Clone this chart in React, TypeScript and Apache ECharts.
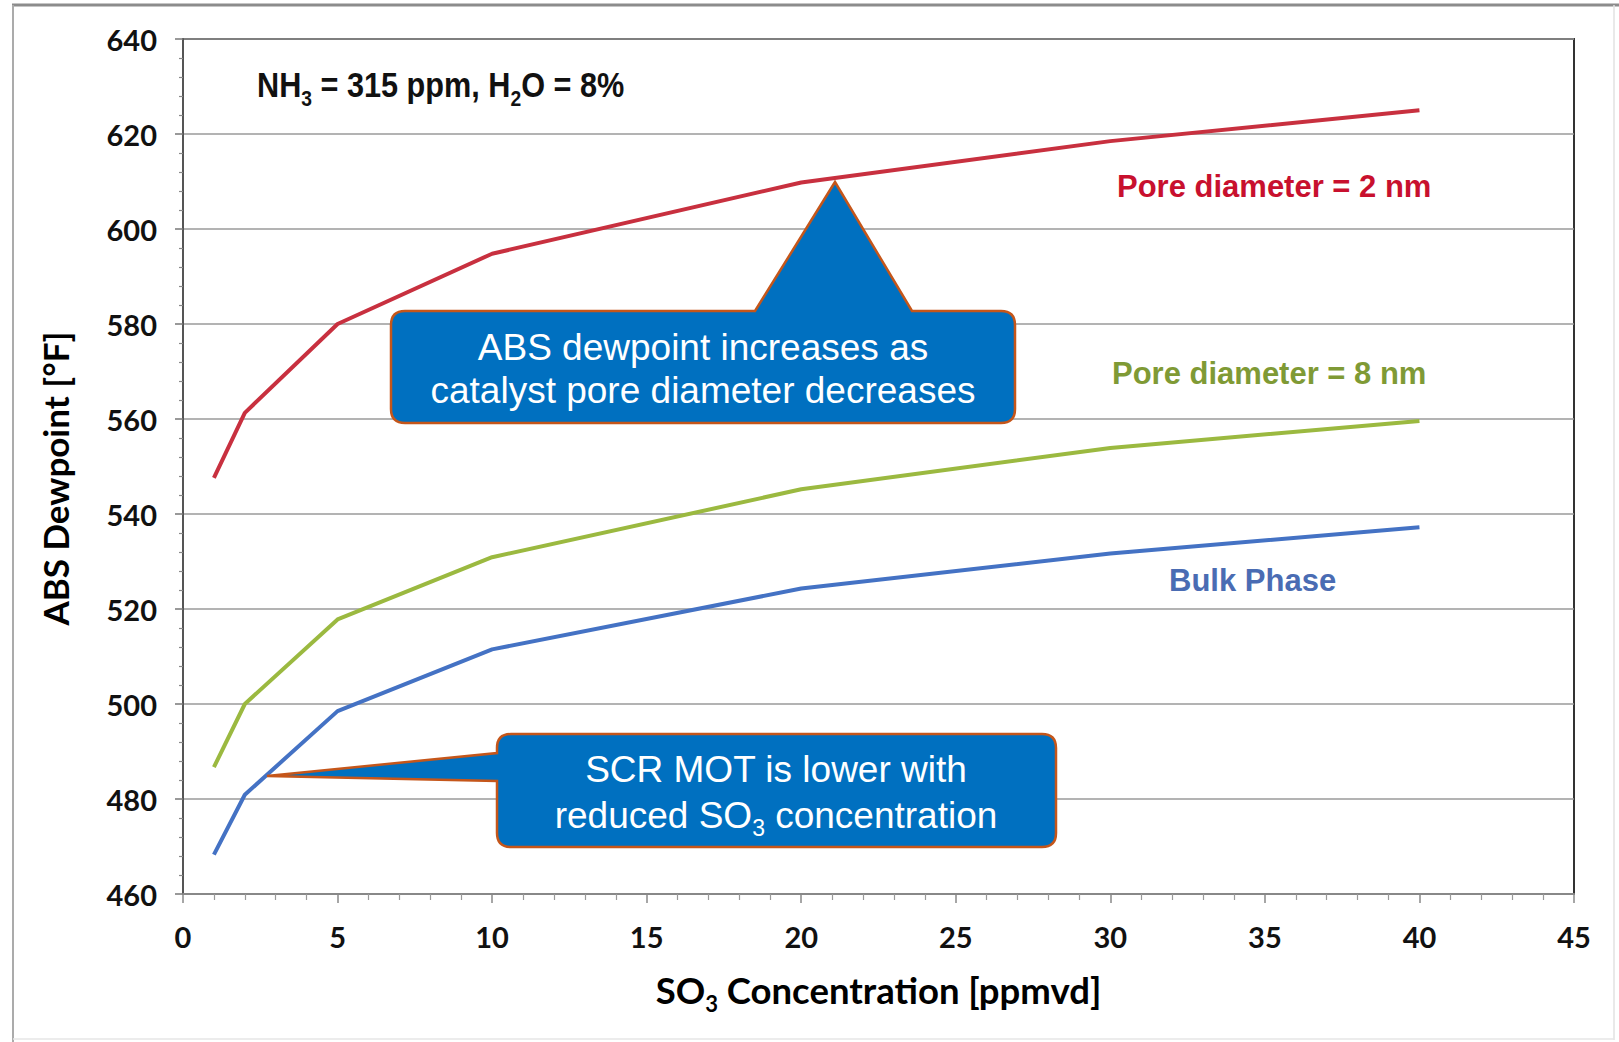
import React, { useEffect, useRef } from "react";
import * as echarts from "echarts";

// ---- data ----
const so3Concentration = [1, 2, 5, 10, 20, 30, 40];
const pore2nm = [547.6, 561.3, 580, 594.8, 609.8, 618.5, 625];
const pore8nm = [486.7, 500, 517.8, 530.9, 545.2, 553.9, 559.6];
const bulkPhase = [468.3, 480.9, 498.5, 511.5, 524.3, 531.7, 537.2];

const seriesNames = ["Pore diameter = 2 nm", "Pore diameter = 8 nm", "Bulk Phase"];
const seriesColors = ["#c8303f", "#9bb940", "#4472c4"];
const labelColors = ["#c8102e", "#7f9a35", "#4a6cb3"];

const yMin = 460;
const yMax = 640;
const yInterval = 20;
const xMin = 0;
const xMax = 45;
const xInterval = 5;

const noteText = ["NH", "3", " = 315 ppm, H", "2", "O = 8%"];
const callout1Lines = ["ABS dewpoint increases as", "catalyst pore diameter decreases"];
const callout2Lines = ["SCR MOT is lower with", "reduced SO", "3", " concentration"];

function roundedCalloutTop(x0: number, y0: number, x1: number, y1: number, r: number, b0: number, b1: number, tx: number, ty: number) {
  return `M ${x0 + r} ${y0} L ${b0} ${y0} L ${tx} ${ty} L ${b1} ${y0} L ${x1 - r} ${y0} Q ${x1} ${y0} ${x1} ${y0 + r} L ${x1} ${y1 - r} Q ${x1} ${y1} ${x1 - r} ${y1} L ${x0 + r} ${y1} Q ${x0} ${y1} ${x0} ${y1 - r} L ${x0} ${y0 + r} Q ${x0} ${y0} ${x0 + r} ${y0} Z`;
}
function roundedCalloutLeft(x0: number, y0: number, x1: number, y1: number, r: number, b0: number, b1: number, tx: number, ty: number) {
  return `M ${x0 + r} ${y0} L ${x1 - r} ${y0} Q ${x1} ${y0} ${x1} ${y0 + r} L ${x1} ${y1 - r} Q ${x1} ${y1} ${x1 - r} ${y1} L ${x0 + r} ${y1} Q ${x0} ${y1} ${x0} ${y1 - r} L ${x0} ${b1} L ${tx} ${ty} L ${x0} ${b0} L ${x0} ${y0 + r} Q ${x0} ${y0} ${x0 + r} ${y0} Z`;
}

let shapesRegistered = false;
function registerShapes() {
  if (shapesRegistered) return;
  shapesRegistered = true;
  echarts.graphic.registerShape(
    "callout1",
    echarts.graphic.extendPath(roundedCalloutTop(391, 311, 1015, 423, 14, 755, 912, 835, 182), {})
  );
  echarts.graphic.registerShape(
    "callout2",
    echarts.graphic.extendPath(roundedCalloutLeft(497, 734, 1056, 847, 14, 753, 781, 267, 776), {})
  );
}

export default function App() {
  const ref = useRef<HTMLDivElement>(null);

  useEffect(() => {
    if (!ref.current) return;
    registerShapes();
    const chart = echarts.init(ref.current, undefined, { renderer: "svg" });

    const mk = (vals: number[]) => so3Concentration.map((x, i) => [x, vals[i]]);
    const allSeries = [pore2nm, pore8nm, bulkPhase];

    const calloutFont = { fontFamily: "'Liberation Sans', Arial, sans-serif", fontSize: 37, fill: "#ffffff" };
    const labelFont = "'Liberation Sans', Arial, sans-serif";

    const subStyle = { lineHeight: 18, padding: [22, 0, 0, 0], verticalAlign: "top" };

    const option: any = {
      animation: false,
      backgroundColor: "#ffffff",
      grid: {
        left: 183,
        top: 39,
        width: 1391,
        height: 855,
        show: true,
        borderColor: "#333333",
        borderWidth: 2,
        backgroundColor: "transparent",
      },
      xAxis: {
        type: "value",
        min: xMin,
        max: xMax,
        interval: xInterval,
        name: "{a|SO}{s|3}{a| Concentration [ppmvd]}",
        nameLocation: "middle",
        nameGap: 76,
        nameTextStyle: {
          rich: {
            a: { fontFamily: "Lato", fontWeight: "bold", fontSize: 36.5, color: "#000", lineHeight: 40 },
            s: { fontFamily: "Lato", fontWeight: "bold", fontSize: 22, color: "#000", ...subStyle },
          },
        },
        axisLine: { show: true, lineStyle: { color: "#888888", width: 2 } },
        axisTick: { show: true, length: 9, lineStyle: { color: "#888888", width: 1.5 } },
        minorTick: { show: true, splitNumber: 5, length: 6, lineStyle: { color: "#999999", width: 1.2 } },
        splitLine: { show: false },
        axisLabel: { margin: 28, fontFamily: "Lato", fontWeight: "bold", fontSize: 29, color: "#111", lineHeight: 28 },
      },
      yAxis: {
        type: "value",
        min: yMin,
        max: yMax,
        interval: yInterval,
        name: "ABS Dewpoint [°F]",
        nameLocation: "middle",
        nameGap: 111,
        nameTextStyle: { fontFamily: "Lato", fontWeight: "bold", fontSize: 35, color: "#000", padding: [0, 24, 0, 0] },
        axisLine: { show: true, lineStyle: { color: "#555555", width: 2 } },
        axisTick: { show: true, length: 8, lineStyle: { color: "#777777", width: 1.5 } },
        minorTick: { show: true, splitNumber: 5, length: 4, lineStyle: { color: "#888888", width: 1.2 } },
        splitLine: { show: true, lineStyle: { color: "#9a9a9a", width: 1.5 } },
        axisLabel: { margin: 26, fontFamily: "Lato", fontWeight: "bold", fontSize: 29, color: "#111" },
      },
      series: allSeries.map((vals, i) => ({
        type: "line",
        name: seriesNames[i],
        data: mk(vals),
        symbol: "none",
        smooth: false,
        lineStyle: { color: seriesColors[i], width: 4 },
        z: 3,
      })),
      graphic: [
        // page frame
        { type: "line", shape: { x1: 12, y1: 5, x2: 1619, y2: 5 }, style: { stroke: "#8c8c8c", lineWidth: 3 }, z: 50 },
        { type: "line", shape: { x1: 13, y1: 5, x2: 13, y2: 1042 }, style: { stroke: "#ababab", lineWidth: 2 }, z: 50 },
        { type: "line", shape: { x1: 1614, y1: 5, x2: 1614, y2: 1040 }, style: { stroke: "#e2e2e2", lineWidth: 1.5 }, z: 50 },
        { type: "line", shape: { x1: 13, y1: 1039, x2: 1614, y2: 1039 }, style: { stroke: "#e6e6e6", lineWidth: 1.5 }, z: 50 },
        // conditions note
        {
          type: "text",
          x: 257,
          y: 85,
          scaleX: 0.876,
          z: 60,
          style: {
            text: `{b|${noteText[0]}}{s|${noteText[1]}}{b|${noteText[2]}}{s|${noteText[3]}}{b|${noteText[4]}}`,
            align: "left",
            verticalAlign: "middle",
            rich: {
              b: { fontFamily: labelFont, fontWeight: "bold", fontSize: 35, fill: "#111", lineHeight: 40 },
              s: { fontFamily: labelFont, fontWeight: "bold", fontSize: 22, fill: "#111", ...subStyle },
            },
          },
        },
        // series labels
        ...[
          { x: 1117, y: 186 },
          { x: 1112, y: 373 },
          { x: 1169, y: 580 },
        ].map((p, i) => ({
          type: "text",
          x: p.x,
          y: p.y,
          z: 60,
          style: {
            text: seriesNames[i],
            fill: labelColors[i],
            fontFamily: labelFont,
            fontWeight: "bold",
            fontSize: 31,
            align: "left",
            verticalAlign: "middle",
          },
        })),
        // callout 1
        {
          type: "callout1",
          x: 0,
          y: 0,
          z: 70,
          style: { fill: "#0070c0", stroke: "#c5561a", lineWidth: 2.5, lineJoin: "miter" },
        },
        {
          type: "text",
          x: 703,
          y: 347,
          z: 71,
          style: { text: callout1Lines[0], align: "center", verticalAlign: "middle", ...calloutFont },
        },
        {
          type: "text",
          x: 703,
          y: 390,
          z: 71,
          style: { text: callout1Lines[1], align: "center", verticalAlign: "middle", ...calloutFont },
        },
        // callout 2
        {
          type: "callout2",
          x: 0,
          y: 0,
          z: 70,
          style: { fill: "#0070c0", stroke: "#c5561a", lineWidth: 2.5, lineJoin: "miter" },
        },
        {
          type: "text",
          x: 776,
          y: 769,
          z: 71,
          style: { text: callout2Lines[0], align: "center", verticalAlign: "middle", ...calloutFont },
        },
        {
          type: "text",
          x: 776,
          y: 815,
          z: 71,
          style: {
            text: `{n|${callout2Lines[1]}}{s|${callout2Lines[2]}}{n|${callout2Lines[3]}}`,
            align: "center",
            verticalAlign: "middle",
            rich: {
              n: { fontFamily: calloutFont.fontFamily, fontSize: 37, fill: "#fff", lineHeight: 42 },
              s: { fontFamily: calloutFont.fontFamily, fontSize: 23, fill: "#fff", ...subStyle },
            },
          },
        },
      ],
    };

    chart.setOption(option);
    return () => chart.dispose();
  }, []);

  return (
    <div
      ref={ref}
      style={{ position: "absolute", left: 0, top: 0, width: 1619, height: 1042, background: "#fff" }}
    />
  );
}
